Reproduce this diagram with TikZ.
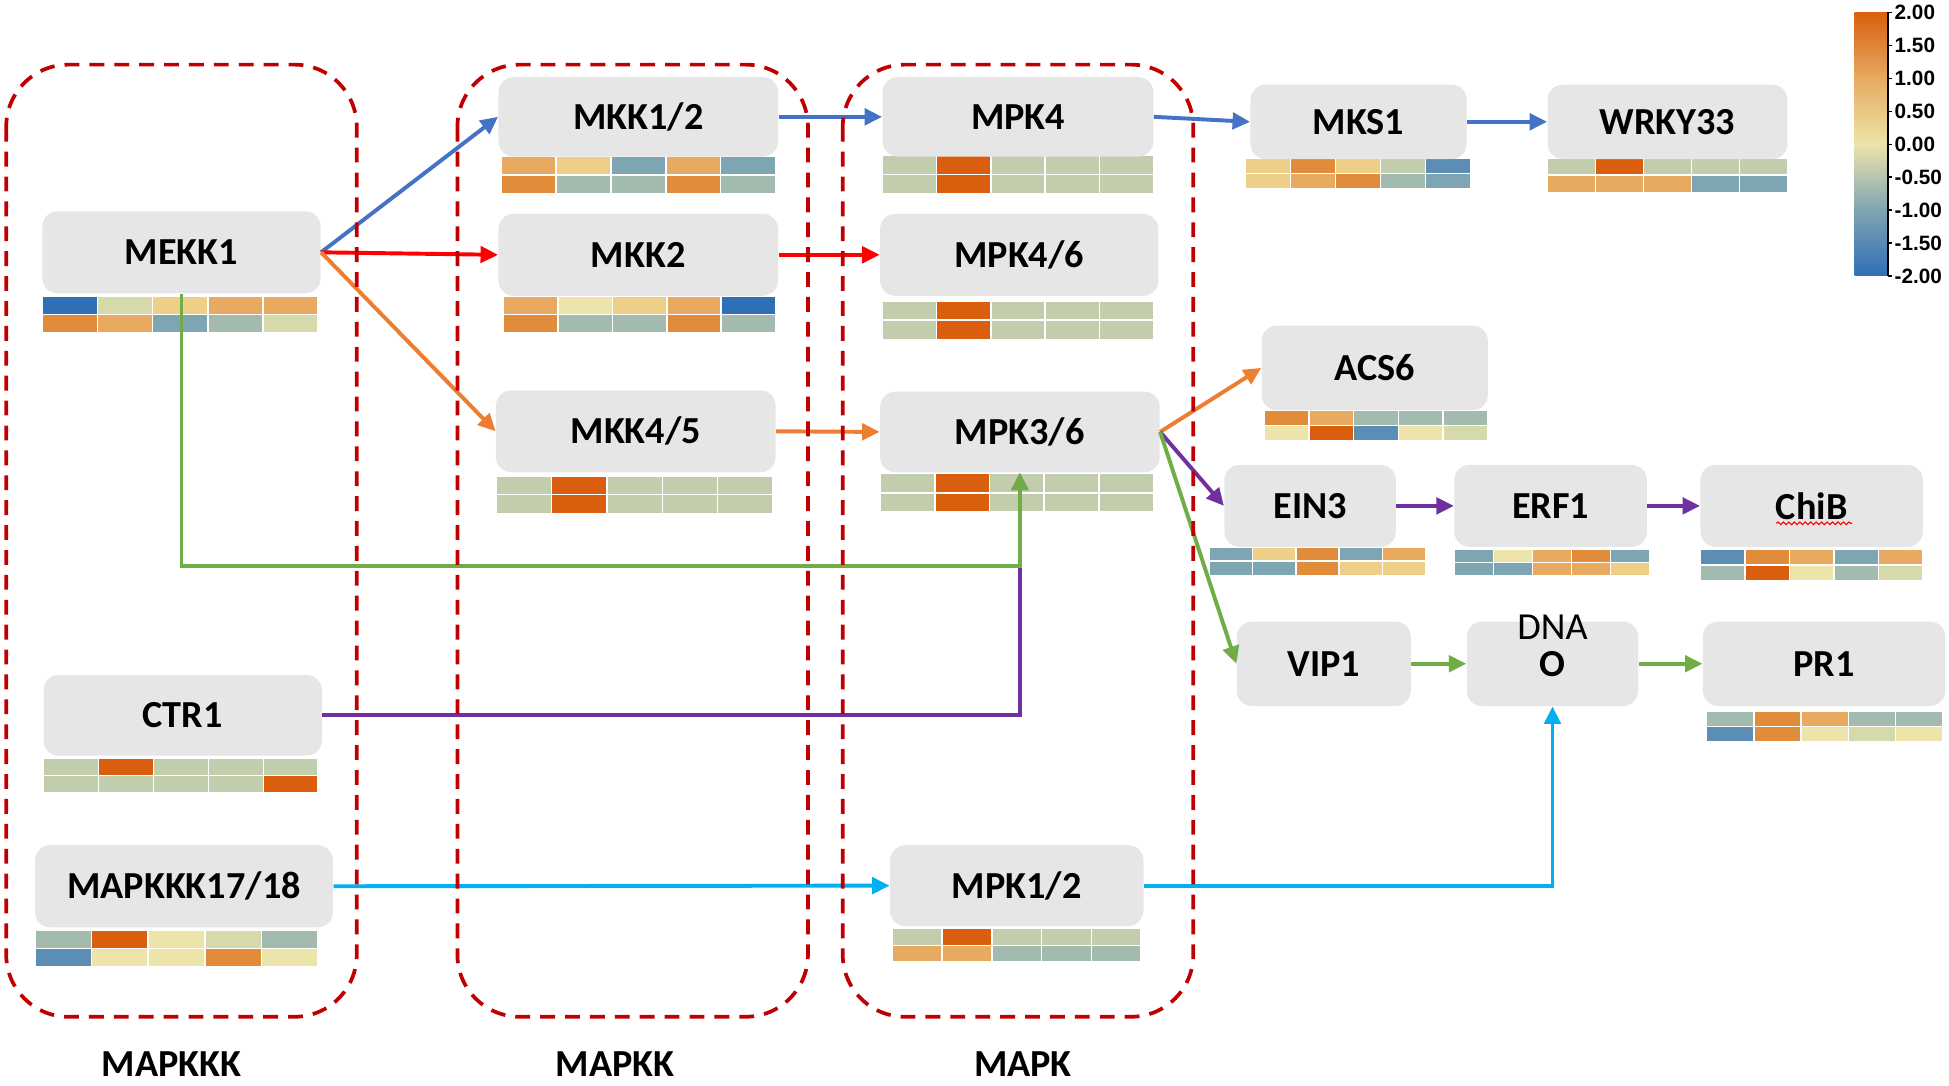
\documentclass[tikz,border=0pt]{standalone}
\usepackage{fontspec}
\setmainfont{Carlito}
\newfontfamily\barfont{Liberation Sans}
\usetikzlibrary{arrows.meta,decorations.pathmorphing}

% heatmap levels, -2 (hA) to 2 (hK)
\definecolor{hA}{HTML}{2F6FB6}
\definecolor{hB}{HTML}{5B8DB5}
\definecolor{hC}{HTML}{7EA5B2}
\definecolor{hD}{HTML}{A3BBAE}
\definecolor{hE}{HTML}{C1CDAC}
\definecolor{hF}{HTML}{D6DAAA}
\definecolor{hG}{HTML}{EDE4A9}
\definecolor{hH}{HTML}{EDCF88}
\definecolor{hI}{HTML}{E7AA60}
\definecolor{hJ}{HTML}{E08C3A}
\definecolor{hK}{HTML}{D95F0E}
\definecolor{boxgray}{HTML}{E6E6E6}
\definecolor{famred}{HTML}{C00000}
\definecolor{cblue}{HTML}{4472C4}
\definecolor{cred}{HTML}{FF0000}
\definecolor{corange}{HTML}{ED7D31}
\definecolor{cpurple}{HTML}{7030A0}
\definecolor{cgreen}{HTML}{70AD47}
\definecolor{ccyan}{HTML}{00B0F0}

\newcommand{\heatmap}[6]{%
  \pgfmathsetmacro{\hmw}{(#3-#1)/5}%
  \pgfmathsetmacro{\hmh}{(#4-#2)/2}%
  \foreach \col [count=\i from 0] in {#5}
    \filldraw[fill=\col, draw=white, line width=0.7pt] ({#1+\i*\hmw},#2) rectangle ++(\hmw,\hmh);
  \foreach \col [count=\i from 0] in {#6}
    \filldraw[fill=\col, draw=white, line width=0.7pt] ({#1+\i*\hmw},{#2+\hmh}) rectangle ++(\hmw,\hmh);
}

\begin{document}
\begin{tikzpicture}[x=0.02cm, y=-0.02cm,
  gene/.style={fill=boxgray, rounded corners=7pt, inner sep=0pt, font=\bfseries\fontsize{17.5}{20}\selectfont},
  family/.style={draw=famred, line width=1.7pt, dash pattern=on 6.8pt off 4.6pt, rounded corners=1cm},
  famlabel/.style={font=\bfseries\fontsize{17.5}{20}\selectfont, inner sep=1pt},
  link/.style={line width=1.8pt, -{Triangle[length=8pt,width=7.5pt]}}]
\useasboundingbox (0,0) rectangle (1568,873.7);

% expression heatmaps
\heatmap{34}{238}{256}{268}{hA,hF,hH,hI,hI}{hJ,hI,hC,hD,hF}
\heatmap{403}{126}{624}{156}{hI,hH,hC,hI,hC}{hJ,hD,hD,hJ,hD}
\heatmap{405}{238}{624}{268}{hI,hG,hH,hI,hA}{hJ,hD,hD,hJ,hD}
\heatmap{399}{383}{622}{413}{hE,hK,hE,hE,hE}{hE,hK,hE,hE,hE}
\heatmap{710}{125}{928}{156}{hE,hK,hE,hE,hE}{hE,hK,hE,hE,hE}
\heatmap{710}{242}{928}{273}{hE,hK,hE,hE,hE}{hE,hK,hE,hE,hE}
\heatmap{708}{381}{928}{412}{hE,hK,hE,hE,hE}{hE,hK,hE,hE,hE}
\heatmap{1002}{127}{1183}{152}{hH,hJ,hH,hE,hB}{hH,hI,hJ,hD,hC}
\heatmap{1245}{127}{1438}{155}{hE,hK,hE,hE,hE}{hI,hI,hI,hC,hC}
\heatmap{1017}{330}{1197}{355}{hJ,hI,hD,hD,hD}{hG,hK,hB,hG,hF}
\heatmap{973}{440}{1147}{463}{hC,hH,hJ,hC,hI}{hC,hC,hJ,hH,hH}
\heatmap{1170}{442}{1327}{463}{hC,hG,hI,hJ,hC}{hC,hC,hI,hI,hH}
\heatmap{1368}{442}{1547}{467}{hB,hJ,hI,hC,hI}{hD,hK,hG,hD,hF}
\heatmap{1373}{572}{1563}{597}{hD,hJ,hI,hD,hD}{hB,hJ,hG,hF,hG}
\heatmap{35}{610}{256}{638}{hE,hK,hE,hE,hE}{hE,hE,hE,hE,hK}
\heatmap{28}{748}{256}{778}{hD,hK,hG,hF,hD}{hB,hG,hG,hJ,hG}
\heatmap{718}{747}{918}{774}{hE,hK,hE,hE,hE}{hI,hI,hD,hD,hD}

% genes
\node[gene, minimum width=4.48cm, minimum height=1.32cm] (mekk1) at (146,203) {MEKK1};
\node[gene, minimum width=4.48cm, minimum height=1.3cm] (ctr1) at (147,575.5) {CTR1};
\node[gene, minimum width=4.8cm, minimum height=1.32cm] (mapkkk) at (148,713) {MAPKKK17/18};
\node[gene, minimum width=4.5cm, minimum height=1.28cm] (mkk12) at (513.5,94) {MKK1/2};
\node[gene, minimum width=4.5cm, minimum height=1.32cm] (mkk2) at (513.5,205) {MKK2};
\node[gene, minimum width=4.5cm, minimum height=1.32cm] (mkk45) at (511.5,347) {MKK4/5};
\node[gene, minimum width=4.36cm, minimum height=1.28cm] (mpk4) at (819,94) {MPK4};
\node[gene, minimum width=4.48cm, minimum height=1.32cm] (mpk46) at (820,205) {MPK4/6};
\node[gene, minimum width=4.5cm, minimum height=1.3cm] (mpk36) at (820.5,347.5) {MPK3/6};
\node[gene, minimum width=4.08cm, minimum height=1.3cm] (mpk12) at (818,712.5) {MPK1/2};
\node[gene, minimum width=3.48cm, minimum height=1.2cm] (mks1) at (1093,98) {MKS1};
\node[gene, minimum width=3.86cm, minimum height=1.2cm] (wrky33) at (1341.5,98) {WRKY33};
\node[gene, minimum width=3.64cm, minimum height=1.36cm] (acs6) at (1106,296) {ACS6};
\node[gene, minimum width=2.76cm, minimum height=1.32cm] (ein3) at (1054,407) {EIN3};
\node[gene, minimum width=3.1cm, minimum height=1.32cm] (erf1) at (1247.5,407) {ERF1};
\node[gene, minimum width=3.58cm, minimum height=1.32cm] (chib) at (1457.5,407) {ChiB};
\node[gene, minimum width=2.8cm, minimum height=1.36cm] (vip1) at (1065,534) {VIP1};
\node[gene, minimum width=2.76cm, minimum height=1.36cm,
  label={[anchor=center, yshift=-0.1cm, font=\fontsize{17.5}{20}\selectfont]north:DNA}] (dna) at (1249,534) {O};
\node[gene, minimum width=3.9cm, minimum height=1.36cm] (pr1) at (1467.5,534) {PR1};
\draw[red, line width=0.5pt, decorate, decoration={snake, amplitude=0.6pt, segment length=2.5pt}] (1429,421) -- (1490,421);

% signalling
\draw[link, cblue] (mekk1.east) -- (mkk12.west);
\draw[link, cred] (mekk1.east) -- (mkk2.west);
\draw[link, corange] (mekk1.east) -- (mkk45.west);
\draw[link, cblue] (mkk12.east) -- (mpk4.west);
\draw[link, cred] (mkk2.east) -- (mpk46.west);
\draw[link, corange] (mkk45.east) -- (mpk36.west);
\draw[link, cblue] (mpk4.east) -- (mks1.west);
\draw[link, cblue] (mks1.east) -- (wrky33.west);
\draw[link, corange] (mpk36.east) -- (acs6.west);
\draw[link, cpurple] (mpk36.east) -- (ein3.west);
\draw[link, cgreen] (mpk36.east) -- (vip1.west);
\draw[link, cpurple] (ein3.east) -- (erf1.west);
\draw[link, cpurple] (erf1.east) -- (chib.west);
\draw[link, cgreen] (vip1.east) -- (dna.west);
\draw[link, cgreen] (dna.east) -- (pr1.west);
\draw[link, cpurple] (ctr1.east) -| (mpk36.south);
\coordinate (gturn) at (146,455);
\draw[link, cgreen] (mekk1.south) -- (gturn) -| (mpk36.south);
\draw[link, ccyan] (mapkkk.east) -- (mpk12.west);
\draw[link, ccyan] (mpk12.east) -| (dna.south);

% kinase tiers
\draw[family] (5,52) rectangle (287,818);
\draw[family] (368,52) rectangle (650,818);
\draw[family] (678,52) rectangle (960,818);
\node[famlabel] (tkkk) at (138,856) {MAPKKK};
\node[famlabel] (tkk) at (495,856) {MAPKK};
\node[famlabel] (tk) at (823,856) {MAPK};

% colour bar
\shade[top color=hK, bottom color=hG, middle color=hI] (1492,10) rectangle (1519,116);
\shade[top color=hG, bottom color=hA, middle color=hC] (1492,116) rectangle (1519,222);
\draw[line width=0.6pt] (1519,10) -- (1519,222);
\foreach \v [count=\k from 0] in {2.00,1.50,1.00,0.50,0.00,-0.50,-1.00,-1.50,-2.00}
  \draw[line width=0.6pt] (1519,{10+26.5*\k}) -- ++(3,0) node[right, inner sep=1pt, font=\barfont\bfseries\fontsize{9.5}{10}\selectfont] {\v};
\end{tikzpicture}
\end{document}
